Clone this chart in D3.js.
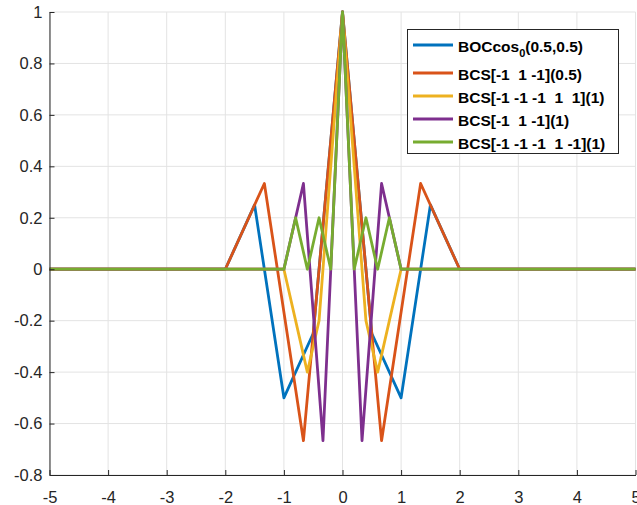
<!DOCTYPE html>
<html><head><meta charset="utf-8">
<script src="https://cdn.jsdelivr.net/npm/d3@7"></script>
<style>body{margin:0;background:#fff}svg{display:block}</style>
</head><body>
<script>
const xTicks = [-5,-4,-3,-2,-1,0,1,2,3,4,5];
const yTicks = [-0.8,-0.6,-0.4,-0.2,0,0.2,0.4,0.6,0.8,1];
const seriesNames = ["BOCcos0(0.5,0.5)","BCS[-1  1 -1](0.5)","BCS[-1 -1 -1  1  1](1)","BCS[-1  1 -1](1)","BCS[-1 -1 -1  1 -1](1)"];
const seriesColors = ["#0072BD","#D95319","#EDB120","#7E2F8E","#77AC30"];
const bocX = [-5,-2,-1.5,-1,-0.5,0,0.5,1,1.5,2,5];
const bocY = [0,0,0.25,-0.5,-0.25,1,-0.25,-0.5,0.25,0,0];
const bcs1X = [-5,-2,-1.3333,-0.6667,0,0.6667,1.3333,2,5];
const bcs1Y = [0,0,0.3333,-0.6667,1,-0.6667,0.3333,0,0];
const bcs2X = [-5,-1,-0.8,-0.6,-0.4,-0.2,0,0.2,0.4,0.6,0.8,1,5];
const bcs2Y = [0,0,-0.2,-0.4,-0.2,0.4,1,0.4,-0.2,-0.4,-0.2,0,0];
const bcs3X = [-5,-1,-0.6667,-0.3333,0,0.3333,0.6667,1,5];
const bcs3Y = [0,0,0.3333,-0.6667,1,-0.6667,0.3333,0,0];
const bcs4X = [-5,-1,-0.8,-0.6,-0.4,-0.2,0,0.2,0.4,0.6,0.8,1,5];
const bcs4Y = [0,0,0.2,0,0.2,0,1,0,0.2,0,0.2,0,0];

const W=637,H=505;
const m={l:49.5,r:635.5,t:12,b:475};
const svg=d3.select("body").append("svg").attr("width",W).attr("height",H);
const x=d3.scaleLinear().domain([-5,5]).range([m.l,m.r]);
const y=d3.scaleLinear().domain([-0.8,1]).range([m.b,m.t]);
const ax="#262626";
const FF="'Liberation Sans',Arial,Helvetica,sans-serif";
// grid
const g=svg.append("g");
xTicks.forEach(t=>g.append("line").attr("x1",x(t)).attr("x2",x(t)).attr("y1",m.t).attr("y2",m.b).attr("stroke","#e3e3e3").attr("stroke-width",1));
yTicks.forEach(t=>g.append("line").attr("x1",m.l).attr("x2",m.r).attr("y1",y(t)).attr("y2",y(t)).attr("stroke","#e3e3e3").attr("stroke-width",1));
// lines
const sets=[[bocX,bocY],[bcs1X,bcs1Y],[bcs2X,bcs2Y],[bcs3X,bcs3Y],[bcs4X,bcs4Y]];
const line=d3.line().x(d=>x(d[0])).y(d=>y(d[1]));
sets.forEach((s,i)=>{
  svg.append("path").datum(s[0].map((v,j)=>[v,s[1][j]])).attr("d",line)
    .attr("fill","none").attr("stroke",seriesColors[i]).attr("stroke-width",2.8).attr("stroke-linejoin","round");
});
// axes
const fmt=d=>String(+d.toFixed(1));
const xa=svg.append("g").attr("transform",`translate(0,${m.b})`).call(d3.axisBottom(x).tickValues(xTicks).tickSizeInner(-5).tickSizeOuter(0).tickPadding(16).tickFormat(fmt));
const ya=svg.append("g").attr("transform",`translate(${m.l},0)`).call(d3.axisLeft(y).tickValues(yTicks).tickSizeInner(-5).tickSizeOuter(0).tickPadding(7).tickFormat(fmt));
[xa,ya].forEach(a=>{
  a.select(".domain").attr("stroke",ax).attr("stroke-width",1);
  a.selectAll(".tick line").attr("stroke",ax);
  a.selectAll("text").attr("fill",ax).style("font-family",FF).style("font-size","16.5px");
});
// legend
const lg=svg.append("g");
lg.append("rect").attr("x",407.5).attr("y",29.5).attr("width",211).attr("height",124).attr("fill","#fff").attr("stroke",ax).attr("stroke-width",1);
const ly=[45,73,96,119,142];
seriesNames.forEach((n,i)=>{
  lg.append("line").attr("x1",413).attr("x2",453).attr("y1",ly[i]).attr("y2",ly[i]).attr("stroke",seriesColors[i]).attr("stroke-width",2.8);
  const t=lg.append("text").attr("x",458).attr("y",ly[i]+6.5).attr("fill","#000")
    .style("font-family",FF).style("font-size","15.5px").style("font-weight","bold").attr("xml:space","preserve").style("white-space","pre");
  if(i===0){
    t.append("tspan").text("BOCcos");
    t.append("tspan").attr("dy",5).style("font-size","11px").text("0");
    t.append("tspan").attr("dy",-5).text("(0.5,0.5)");
  } else t.text(n);
});
</script>
</body></html>
